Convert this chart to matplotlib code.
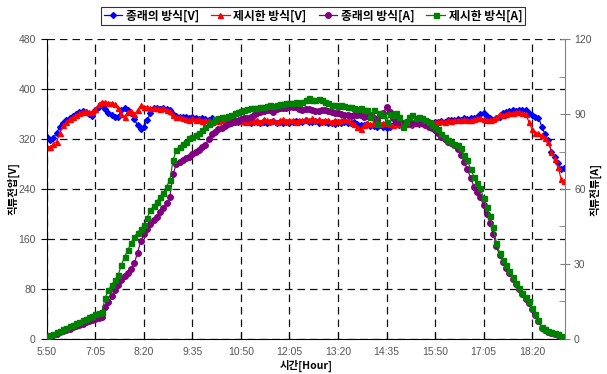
import numpy as np
import matplotlib
matplotlib.use('Agg')
import matplotlib.pyplot as plt
from matplotlib.ticker import MultipleLocator

plt.rcParams['font.family'] = ['Liberation Sans', 'Noto Sans CJK KR', 'DejaVu Sans']

# 5:50 부터 5분 간격 측정 (분 단위)
minutes = np.arange(0, 805, 5)

tick_labels = ['5:50', '7:05', '8:20', '9:35', '10:50', '12:05',
               '13:20', '14:35', '15:50', '17:05', '18:20']

# 종래의 방식 [V]
conv_v = [
    323, 318, 322, 330, 340, 345, 350, 354, 357, 360,
    364, 365, 363, 360, 357, 366, 372, 374, 368, 362,
    358, 355, 356, 366, 369, 367, 362, 352, 342, 336,
    340, 350, 362, 369, 369, 368, 369, 368, 366, 360,
    357, 356, 355, 356, 354, 355, 353, 352, 354, 352,
    351, 353, 350, 352, 350, 351, 349, 351, 350, 348,
    350, 347, 349, 346, 348, 347, 345, 348, 346, 347,
    349, 346, 347, 345, 348, 346, 347, 349, 347, 348,
    350, 348, 347, 349, 346, 348, 347, 345, 346, 344,
    347, 345, 348, 346, 345, 347, 344, 343, 342, 344,
    341, 341, 340, 342, 339, 337, 340, 342, 344, 343,
    345, 344, 346, 343, 345, 344, 346, 345, 347, 346,
    348, 348, 349, 348, 350, 351, 350, 352, 351, 353,
    352, 354, 353, 356, 360, 362, 357, 353, 351, 353,
    356, 362, 364, 365, 366, 365, 367, 366, 367, 362,
    358, 356, 354, 340, 328, 318, 300, 292, 282, 272,
    273,
]

# 제시한 방식 [V]
prop_v = [
    308, 307, 312, 316, 330, 342, 347, 352, 356, 359,
    362, 364, 365, 363, 364, 368, 376, 380, 379, 378,
    378, 376, 370, 360, 356, 364, 365, 360, 366, 374,
    372, 371, 369, 370, 369, 368, 369, 367, 365, 358,
    356, 355, 354, 352, 351, 353, 350, 352, 349, 351,
    350, 348, 351, 349, 350, 348, 351, 349, 350, 352,
    349, 350, 348, 351, 349, 350, 348, 352, 350, 349,
    351, 348, 350, 352, 349, 351, 350, 348, 351, 350,
    352, 351, 353, 350, 352, 349, 351, 350, 348, 351,
    349, 350, 352, 350, 347, 344, 340, 336, 342, 345,
    344, 346, 345, 344, 346, 345, 344, 343, 345, 344,
    346, 345, 344, 346, 345, 347, 346, 348, 347, 348,
    347, 348, 349, 348, 350, 349, 350, 351, 350, 352,
    351, 350, 352, 353, 354, 352, 351, 350, 352, 355,
    360, 358, 360, 362, 361, 363, 364, 362, 360, 348,
    336, 330, 329, 326, 322, 316, 300, 288, 276, 256,
    253,
]

# 종래의 방식 [A]
conv_a = [
    0.8, 1.2, 1.6, 2.1, 2.6, 3.1, 3.6, 4.1, 4.6, 5.1,
    5.6, 6.1, 6.6, 7.1, 7.6, 8.0, 8.3, 8.9, 12.9, 14.9,
    17.0, 19.5, 21.6, 23.5, 25.2, 26.5, 28.0, 30.3, 34.5, 39.2,
    41.8, 43.9, 46.0, 47.5, 48.9, 50.8, 52.5, 54.3, 56.9, 66.0,
    70.0, 70.8, 71.5, 72.3, 73.0, 74.0, 74.9, 75.8, 76.8, 77.8,
    80.0, 82.0, 83.0, 84.0, 84.5, 85.3, 86.0, 86.3, 86.8, 87.4,
    88.0, 88.3, 88.6, 88.9, 89.5, 90.6, 90.9, 91.2, 91.5, 91.8,
    90.9, 92.0, 92.3, 92.4, 92.5, 92.7, 92.9, 92.9, 92.0, 91.8,
    92.1, 92.0, 91.6, 91.2, 91.4, 91.6, 91.6, 91.4, 91.0, 90.6,
    90.3, 90.0, 89.8, 89.6, 89.2, 89.6, 89.6, 89.5, 89.0, 89.4,
    89.8, 88.5, 87.5, 89.5, 90.5, 92.9, 91.0, 88.3, 86.9, 87.0,
    86.5, 86.8, 86.3, 86.5, 86.4, 86.3, 86.3, 85.5, 84.8, 84.3,
    83.5, 82.5, 81.0, 80.0, 79.0, 78.3, 77.5, 76.0, 73.5, 70.9,
    68.0, 64.5, 61.0, 59.0, 56.9, 53.5, 50.0, 46.5, 42.0, 37.0,
    33.5, 30.8, 28.5, 26.3, 24.0, 21.8, 19.8, 17.8, 16.0, 14.5,
    12.0, 9.5, 7.0, 4.5, 3.4, 2.8, 2.3, 1.9, 1.4, 0.9,
    0.5,
]

# 제시한 방식 [A]
prop_a = [
    1.0, 1.5, 2.0, 2.6, 3.2, 3.8, 4.4, 5.0, 5.6, 6.2,
    6.8, 7.4, 8.0, 8.6, 9.2, 9.8, 10.3, 10.9, 16.5, 19.6,
    21.6, 23.6, 25.6, 29.5, 32.9, 35.5, 38.5, 40.9, 42.5, 44.0,
    45.5, 48.5, 51.5, 53.2, 55.0, 57.0, 58.5, 61.0, 63.6, 71.5,
    75.6, 77.0, 78.2, 79.0, 80.3, 81.0, 81.6, 82.4, 83.5, 84.9,
    86.0, 86.8, 88.0, 88.5, 88.7, 88.9, 89.4, 89.8, 90.3, 90.8,
    91.2, 91.6, 92.0, 92.3, 92.5, 92.6, 92.9, 93.0, 93.2, 93.6,
    93.2, 93.6, 94.0, 94.2, 94.3, 94.6, 94.5, 95.0, 94.3, 94.8,
    95.6, 96.3, 95.8, 95.6, 95.9, 95.6, 94.9, 94.3, 93.8, 93.6,
    93.4, 93.6, 93.2, 92.9, 92.8, 92.3, 92.0, 92.3, 91.6, 91.6,
    89.0, 91.8, 86.0, 90.5, 89.6, 87.0, 90.2, 89.8, 90.3, 88.9,
    84.9, 87.0, 88.9, 89.6, 88.6, 88.8, 88.3, 87.6, 86.8, 85.6,
    85.0, 84.0, 82.0, 80.9, 79.8, 79.0, 78.0, 77.5, 76.3, 73.5,
    71.6, 68.0, 65.0, 62.5, 60.3, 56.5, 52.9, 49.0, 44.9, 38.3,
    34.5, 31.6, 29.5, 27.0, 24.9, 22.5, 20.3, 18.5, 16.6, 15.2,
    12.5, 10.0, 7.5, 4.9, 3.8, 3.2, 2.7, 2.3, 1.8, 1.2,
    0.7,
]

fig = plt.figure(figsize=(6.07, 3.74), dpi=100)
ax = fig.add_axes([0.0774, 0.0936, 0.8534, 0.8021])
ax2 = ax.twinx()

grid_style = dict(color='#111111', linestyle=(0, (6, 4)), linewidth=0.9)

l1, = ax.plot(minutes, conv_v, color='#0000ff', marker='D', markersize=3.0,
              linewidth=0.9, label='종래의 방식[V]')
l2, = ax.plot(minutes, prop_v, color='#ff0000', marker='^', markersize=3.6,
              linewidth=0.9, label='제시한 방식[V]')
l3, = ax2.plot(minutes, conv_a, color='#800080', marker='o', markersize=4.0,
               linewidth=0.9, label='종래의 방식[A]')
l4, = ax2.plot(minutes, prop_a, color='#008000', marker='s', markersize=3.6,
               linewidth=0.9, label='제시한 방식[A]')

ax.set_xlim(0, 801)
ax.set_ylim(0, 480)
ax2.set_ylim(0, 120)

ax.set_xticks(np.arange(0, 751, 75))
ax.set_xticklabels(tick_labels)
ax.set_yticks(np.arange(0, 481, 80))
ax2.set_yticks(np.arange(0, 121, 30))
ax2.yaxis.set_minor_locator(MultipleLocator(15))

ax.grid(True, **grid_style)

for a in (ax, ax2):
    a.spines['top'].set_visible(False)
ax.spines['right'].set_visible(False)
ax2.spines['left'].set_visible(False)
ax2.spines['bottom'].set_visible(False)
ax2.spines['right'].set_color('#808080')
ax.spines['left'].set_color('black')
ax.spines['bottom'].set_color('black')

ax.tick_params(axis='x', direction='in', length=5, labelsize=7.5,
               labelcolor='#555555', pad=6)
ax.tick_params(axis='y', direction='out', length=4, labelsize=7.5,
               labelcolor='#555555', pad=4)
ax2.tick_params(axis='y', which='major', direction='inout', length=7,
                labelsize=7.5, labelcolor='#555555', color='#808080', pad=3)
ax2.tick_params(axis='y', which='minor', direction='in', length=4,
                color='#808080')

lab_font = dict(family=['Noto Sans CJK KR', 'DejaVu Sans'],
                fontsize=7.5, fontweight='bold')
ax.set_xlabel('시간[Hour]', labelpad=2, **lab_font)
ax.set_ylabel('직류전압[V]', **lab_font)
ax2.set_ylabel('직류전류[A]', rotation=90, **lab_font)
ax.yaxis.set_label_coords(-0.053, 0.5)
ax2.yaxis.set_label_coords(1.047, 0.5)

leg = fig.legend(handles=[l1, l2, l3, l4], loc='center', ncol=4,
                 bbox_to_anchor=(313 / 607, 1 - 16 / 374),
                 prop={'family': ['Noto Sans CJK KR', 'DejaVu Sans'],
                       'size': 8.5, 'weight': 'bold'},
                 frameon=True, fancybox=False, shadow=False,
                 edgecolor='black', handlelength=1.6, handletextpad=0.3,
                 columnspacing=1.0, borderpad=0.25, markerscale=1.0)
leg.get_frame().set_linewidth(0.8)

fig.savefig('out.png', dpi=100)
